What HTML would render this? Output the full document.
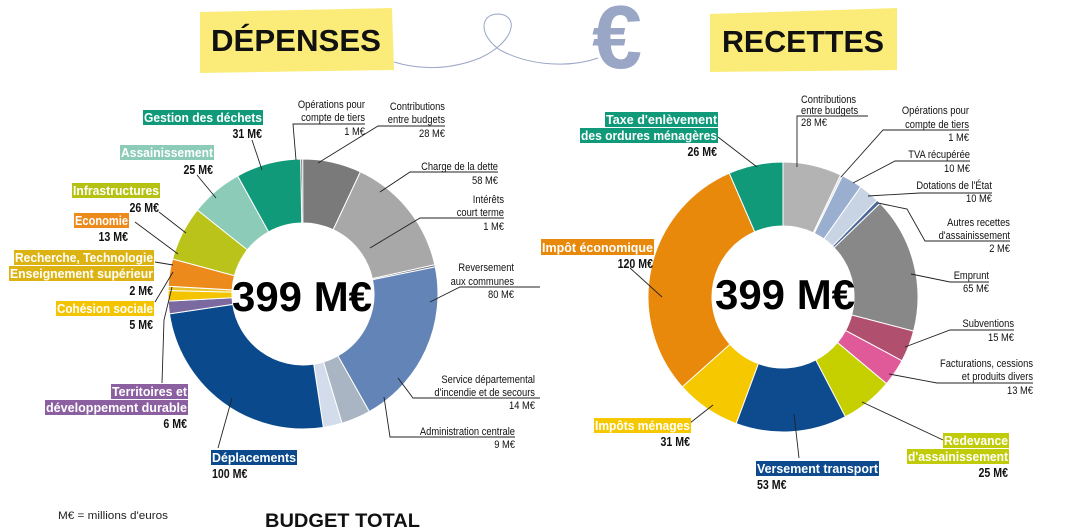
<!DOCTYPE html>
<html><head><meta charset="utf-8">
<style>
html,body{margin:0;padding:0;background:#fff;}
svg{display:block;font-family:"Liberation Sans Narrow","Liberation Sans",sans-serif;}
.l{font-size:11px;fill:#111;}
.b{font-size:13px;font-weight:bold;fill:#fff;}
.v{font-size:12.5px;font-weight:bold;fill:#111;}
</style></head><body>
<svg id="s" width="1084" height="531" viewBox="0 0 1084 531" xmlns="http://www.w3.org/2000/svg">
<polygon points="200,12 392,8 394,70 200,73" fill="#fbec7a"/>
<polygon points="710,14 897,8 897,70 710,72" fill="#fbec7a"/>
<text x="296" y="51" text-anchor="middle" textLength="170" lengthAdjust="spacingAndGlyphs" style="font-family:'Liberation Sans',sans-serif;font-weight:bold;font-size:31px" fill="#111">DÉPENSES</text>
<text x="803" y="52" text-anchor="middle" textLength="162" lengthAdjust="spacingAndGlyphs" style="font-family:'Liberation Sans',sans-serif;font-weight:bold;font-size:31px" fill="#111">RECETTES</text>
<path d="M394,62 C420,70 450,70 480,58 C515,42 520,15 498,14 C480,14 478,35 500,50 C530,66 570,68 598,58" fill="none" stroke="#9aa6c6" stroke-width="1"/>
<text x="592" y="68" style="font-family:'Liberation Sans',sans-serif;font-weight:bold;font-size:90px" fill="#9aa6c6">€</text>

<g id="donuts"></g>

<text class="c" x="302" y="311" text-anchor="middle" textLength="140" lengthAdjust="spacingAndGlyphs" style="font-family:'Liberation Sans',sans-serif;font-weight:bold;font-size:42px" fill="#000">399 M€</text>
<text class="c" x="785" y="309" text-anchor="middle" textLength="140" lengthAdjust="spacingAndGlyphs" style="font-family:'Liberation Sans',sans-serif;font-weight:bold;font-size:42px" fill="#000">399 M€</text>

<g stroke="#222" stroke-width="0.9" fill="none">
<line x1="252" y1="140" x2="262" y2="170"/>
<line x1="197" y1="175" x2="216" y2="198"/>
<line x1="159" y1="212" x2="186" y2="233"/>
<line x1="135" y1="222" x2="178" y2="254"/>
<line x1="155" y1="262" x2="173" y2="265"/>
<line x1="155" y1="302" x2="173" y2="272"/>
<polyline points="162,383 164,320 172,287"/>
<line x1="218" y1="448" x2="232" y2="398"/>
<polyline points="365,124 293,124 296,160"/>
<polyline points="445,126 378,126 318,163"/>
<polyline points="498,172 410,172 380,192"/>
<polyline points="504,218 420,218 370,248"/>
<polyline points="540,287 460,287 430,302"/>
<polyline points="540,398 413,398 398,378"/>
<polyline points="515,437 390,437 384,397"/>
<line x1="718" y1="137" x2="757" y2="167"/>
<line x1="630" y1="268" x2="662" y2="297"/>
<line x1="690" y1="423" x2="713" y2="405"/>
<line x1="799" y1="458" x2="794" y2="414"/>
<line x1="943" y1="440" x2="862" y2="402"/>
<polyline points="868,116 797,116 797,167"/>
<polyline points="969,130 883,130 841,177"/>
<polyline points="970,161 895,161 853,183"/>
<polyline points="992,193 920,193 868,196"/>
<polyline points="1010,241 925,241 907,209 878,203"/>
<polyline points="989,282 950,282 911,274"/>
<polyline points="1014,330 950,330 905,347"/>
<polyline points="1033,383 937,383 889,374"/>
</g>

<rect x="143" y="110" width="120" height="15" fill="#109a7a"/><text class="b" x="262" y="122" text-anchor="end">Gestion des déchets</text>
<text class="v" x="262" y="138" text-anchor="end">31 M€</text>
<rect x="120" y="145" width="94" height="15" fill="#8ccbb7"/><text class="b" x="213" y="157" text-anchor="end">Assainissement</text>
<text class="v" x="213" y="174" text-anchor="end">25 M€</text>
<rect x="72" y="183" width="88" height="15" fill="#b5c214"/><text class="b" x="159" y="195" text-anchor="end">Infrastructures</text>
<text class="v" x="159" y="212" text-anchor="end">26 M€</text>
<rect x="74" y="213" width="55" height="15" fill="#ec8a1c"/><text class="b" x="128" y="225" text-anchor="end">Economie</text>
<text class="v" x="128" y="241" text-anchor="end">13 M€</text>
<rect x="14" y="250" width="140" height="15" fill="#dcb312"/><text class="b" x="153" y="262" text-anchor="end">Recherche, Technologie</text>
<rect x="9" y="266" width="145" height="15" fill="#dcb312"/><text class="b" x="153" y="278" text-anchor="end">Enseignement supérieur</text>
<text class="v" x="153" y="295" text-anchor="end">2 M€</text>
<rect x="56" y="301" width="98" height="15" fill="#f5c400"/><text class="b" x="153" y="313" text-anchor="end">Cohésion sociale</text>
<text class="v" x="153" y="329" text-anchor="end">5 M€</text>
<rect x="111" y="384" width="77" height="15" fill="#8b5fa0"/><text class="b" x="187" y="396" text-anchor="end">Territoires et</text>
<rect x="45" y="400" width="143" height="15" fill="#8b5fa0"/><text class="b" x="187" y="412" text-anchor="end">développement durable</text>
<text class="v" x="187" y="428" text-anchor="end">6 M€</text>
<rect x="211" y="450" width="86" height="15" fill="#0a4a8c"/><text class="b" x="296" y="462" text-anchor="end">Déplacements</text>
<text class="v" x="212" y="478">100 M€</text>

<text class="l" x="365" y="108" text-anchor="end">Opérations pour</text>
<text class="l" x="365" y="121" text-anchor="end">compte de tiers</text>
<text class="l" x="365" y="135" text-anchor="end">1 M€</text>
<text class="l" x="445" y="110" text-anchor="end">Contributions</text>
<text class="l" x="445" y="123" text-anchor="end">entre budgets</text>
<text class="l" x="445" y="137" text-anchor="end">28 M€</text>
<text class="l" x="498" y="170" text-anchor="end">Charge de la dette</text>
<text class="l" x="498" y="184" text-anchor="end">58 M€</text>
<text class="l" x="504" y="203" text-anchor="end">Intérêts</text>
<text class="l" x="504" y="216" text-anchor="end">court terme</text>
<text class="l" x="504" y="230" text-anchor="end">1 M€</text>
<text class="l" x="514" y="271" text-anchor="end">Reversement</text>
<text class="l" x="514" y="285" text-anchor="end">aux communes</text>
<text class="l" x="514" y="298" text-anchor="end">80 M€</text>
<text class="l" x="535" y="383" text-anchor="end">Service départemental</text>
<text class="l" x="535" y="396" text-anchor="end">d'incendie et de secours</text>
<text class="l" x="535" y="409" text-anchor="end">14 M€</text>
<text class="l" x="515" y="435" text-anchor="end">Administration centrale</text>
<text class="l" x="515" y="448" text-anchor="end">9 M€</text>

<rect x="605" y="112" width="113" height="15" fill="#109a7a"/><text class="b" x="717" y="124" text-anchor="end">Taxe d'enlèvement</text>
<rect x="580" y="128" width="138" height="15" fill="#109a7a"/><text class="b" x="717" y="140" text-anchor="end">des ordures ménagères</text>
<text class="v" x="717" y="156" text-anchor="end">26 M€</text>
<rect x="541" y="239" width="113" height="16" fill="#e8890c"/><text class="b" x="653" y="252" text-anchor="end">Impôt économique</text>
<text class="v" x="653" y="268" text-anchor="end">120 M€</text>
<rect x="594" y="418" width="97" height="15" fill="#f5c800"/><text class="b" x="690" y="430" text-anchor="end">Impôts ménages</text>
<text class="v" x="690" y="446" text-anchor="end">31 M€</text>
<rect x="756" y="461" width="123" height="15" fill="#0d4b8e"/><text class="b" x="878" y="473" text-anchor="end">Versement transport</text>
<text class="v" x="757" y="489">53 M€</text>
<rect x="943" y="433" width="66" height="15" fill="#c0cc0a"/><text class="b" x="1008" y="445" text-anchor="end">Redevance</text>
<rect x="907" y="449" width="102" height="15" fill="#c0cc0a"/><text class="b" x="1008" y="461" text-anchor="end">d'assainissement</text>
<text class="v" x="1008" y="477" text-anchor="end">25 M€</text>

<text class="l" x="801" y="103">Contributions</text>
<text class="l" x="801" y="114">entre budgets</text>
<text class="l" x="801" y="126">28 M€</text>
<text class="l" x="969" y="114" text-anchor="end">Opérations pour</text>
<text class="l" x="969" y="128" text-anchor="end">compte de tiers</text>
<text class="l" x="969" y="141" text-anchor="end">1 M€</text>
<text class="l" x="970" y="158" text-anchor="end">TVA récupérée</text>
<text class="l" x="970" y="172" text-anchor="end">10 M€</text>
<text class="l" x="992" y="189" text-anchor="end">Dotations de l'État</text>
<text class="l" x="992" y="202" text-anchor="end">10 M€</text>
<text class="l" x="1010" y="226" text-anchor="end">Autres recettes</text>
<text class="l" x="1010" y="239" text-anchor="end">d'assainissement</text>
<text class="l" x="1010" y="252" text-anchor="end">2 M€</text>
<text class="l" x="989" y="279" text-anchor="end">Emprunt</text>
<text class="l" x="989" y="292" text-anchor="end">65 M€</text>
<text class="l" x="1014" y="327" text-anchor="end">Subventions</text>
<text class="l" x="1014" y="341" text-anchor="end">15 M€</text>
<text class="l" x="1033" y="367" text-anchor="end">Facturations, cessions</text>
<text class="l" x="1033" y="380" text-anchor="end">et produits divers</text>
<text class="l" x="1033" y="394" text-anchor="end">13 M€</text>

<text x="58" y="519" style="font-size:11px" fill="#222" textLength="110" lengthAdjust="spacingAndGlyphs">M€ = millions d'euros</text>
<text x="265" y="527" textLength="155" lengthAdjust="spacingAndGlyphs" style="font-family:'Liberation Sans',sans-serif;font-weight:bold;font-size:19px" fill="#111">BUDGET TOTAL</text>
</svg>
<script>
(function(){
var NS="http://www.w3.org/2000/svg",g=document.getElementById("donuts");
function donut(cx,cy,R,r,start,data){
  var tot=0;data.forEach(function(d){tot+=d[0];});
  var a=start*Math.PI/180;
  data.forEach(function(d){
    var b=a+d[0]/tot*2*Math.PI,la=(b-a)>Math.PI?1:0;
    function p(rad,t){return (cx+rad*Math.sin(t)).toFixed(2)+","+(cy-rad*Math.cos(t)).toFixed(2);}
    var path=document.createElementNS(NS,"path");
    path.setAttribute("d","M"+p(R,a)+"A"+R+","+R+" 0 "+la+" 1 "+p(R,b)+"L"+p(r,b)+"A"+r+","+r+" 0 "+la+" 0 "+p(r,a)+"Z");
    path.setAttribute("fill",d[1]);path.setAttribute("stroke","#fff");path.setAttribute("stroke-width","1");
    g.appendChild(path);a=b;
  });
}
donut(303,294,135,71,-1,[[1,"#5e5e5e"],[28,"#7a7a7a"],[58,"#a8a8a8"],[1,"#666d78"],[80,"#6384b6"],[14,"#a9b5c3"],[9,"#d3dcea"],[100,"#0a4a8c"],[6,"#7b6aa0"],[5,"#f5c400"],[2,"#e8c22a"],[13,"#ec8a1c"],[26,"#b9c31a"],[25,"#8ccbb7"],[31,"#109a7a"]]);
donut(783,297,135,71,0,[[28,"#b3b3b3"],[1,"#dcdcdc"],[10,"#9aaed0"],[10,"#c8d3e4"],[2,"#4b6a9a"],[65,"#888888"],[15,"#b0506e"],[13,"#e05a9a"],[25,"#c6d000"],[53,"#0d4b8e"],[31,"#f5c800"],[120,"#e8890c"],[26,"#109a7a"]]);
var ts=document.querySelectorAll("text.l,text.v,text.b");
for(var i=0;i<ts.length;i++){
  var t=ts[i],w;
  try{w=t.getComputedTextLength();}catch(e){continue;}
  if(!w)continue;
  var nw;
  if(t.classList.contains("b")){
    var r=t.previousElementSibling;
    nw=parseFloat(r.getAttribute("width"))-2;
  } else nw=w*0.85;
  t.setAttribute("textLength",nw.toFixed(1));
  t.setAttribute("lengthAdjust","spacingAndGlyphs");
}
})();
</script>
</body></html>
